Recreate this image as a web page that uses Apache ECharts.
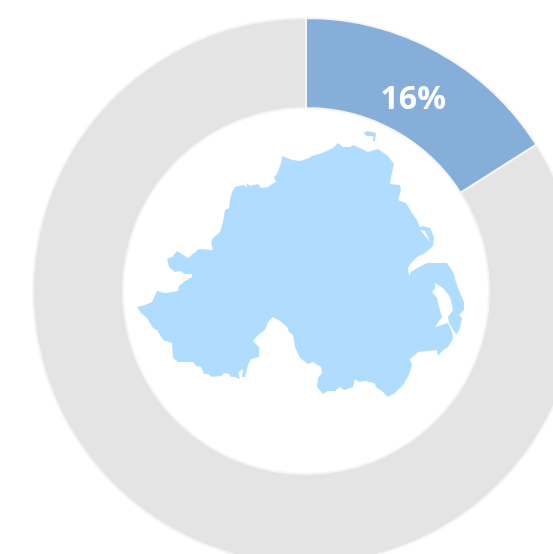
<!DOCTYPE html>
<html><head><meta charset="utf-8">
<style>html,body{margin:0;padding:0;background:#fff}#c{width:553px;height:554px}</style>
<script src="https://cdn.jsdelivr.net/npm/echarts@6/dist/echarts.min.js"></script>
</head><body><div id="c"></div>
<script>
const sliceNames = ['Share', 'Rest'];
const sliceValues = [16, 84];
const mainlandOutline = [[282,156],[287,158],[293,160],[300,161],[309,158],[312,156],[322,153],[333,148],[338,143],[343,147],[350,147],[353,145],[360,148],[368,152],[378,149],[388,156],[394,164],[391,177],[390,184],[400,185],[401,190],[398,200],[406,203],[412,213],[417,220],[420,227],[423,226],[430,228],[434,237],[433,246],[425,253],[417,257],[410,264],[408,268],[409,276],[411,272],[417,268],[427,263],[447,263],[453,272],[456,282],[460,293],[464,302],[464,310],[459,315],[462,318],[460,328],[457,334],[455,333],[449,323],[448,317],[453,310],[450,297],[443,288],[435,283],[435,288],[432,292],[437,298],[438,303],[440,310],[442,317],[435,327],[442,325],[448,323],[452,332],[453,339],[448,347],[443,350],[438,356],[437,350],[418,352],[415,355],[410,359],[412,365],[409,375],[403,385],[395,393],[388,397],[382,391],[377,388],[374,383],[365,381],[359,382],[355,379],[353,387],[344,390],[340,387],[335,391],[328,391],[323,394],[317,387],[318,378],[322,373],[321,367],[313,362],[308,364],[300,358],[295,347],[293,335],[289,332],[287,327],[280,321],[273,317],[268,322],[265,330],[258,335],[253,341],[259,347],[259,357],[251,359],[248,365],[245,377],[242,377],[243,372],[242,369],[238,373],[240,379],[235,377],[231,377],[229,374],[225,373],[221,376],[212,377],[208,374],[204,374],[201,367],[196,366],[193,362],[178,362],[173,358],[172,343],[163,340],[157,330],[153,328],[147,318],[141,313],[137,307],[145,305],[152,302],[157,291],[165,293],[178,291],[179,286],[185,281],[192,277],[192,274],[185,274],[180,271],[175,272],[169,267],[167,259],[172,257],[177,251],[188,258],[199,249],[213,250],[211,243],[213,238],[220,232],[223,222],[225,210],[229,208],[230,200],[232,192],[235,187],[243,185],[247,187],[247,183],[250,186],[258,184],[261,188],[268,187],[272,184],[276,182],[274,177],[277,174],[281,163]];
const larneLough = [[422,232],[427,238],[430,242],[428,237],[425,231],[420,230]];
const rathlinIsland = [[363,133],[368,131],[376,133],[375,141],[373,141],[373,136],[367,136]];

const closeRing = r => r.concat([r[0]]);
echarts.registerMap('ni', {type:'FeatureCollection', features:[{
  type:'Feature', properties:{name:'Northern Ireland'},
  geometry:{type:'MultiPolygon', coordinates:[
    [closeRing(mainlandOutline), closeRing(larneLough)],
    [closeRing(rathlinIsland)]
  ]}
}]});

const chart = echarts.init(document.getElementById('c'), null, {renderer:'canvas'});
chart.setOption({
  animation:false,
  series:[
    {
      type:'pie', center:[306,291], radius:[183,273], startAngle:90, silent:true,
      data:sliceNames.map((n,i)=>({name:n, value:sliceValues[i],
        itemStyle:{color:i===0?'#85AED8':'#E4E4E4'},
        label:{show:i===0}})),
      itemStyle:{borderColor:'#F5F5F5', borderWidth:2},
      label:{position:'inside', formatter:'{c}%', color:'#fff',
        fontFamily:'Open Sans', fontWeight:700, fontSize:32},
      labelLayout:{dx:-4, dy:11},
      labelLine:{show:false}
    },
    {
      type:'map', map:'ni', silent:true,
      projection:{project:p=>p, unproject:p=>p},
      left:137, top:131, width:327, height:266,
      label:{show:false},
      itemStyle:{areaColor:'#B0DDFF', borderWidth:0},
      emphasis:{disabled:true},
      select:{disabled:true},
      data:[{name:'Northern Ireland', value:16}]
    }
  ]
});
</script></body></html>
